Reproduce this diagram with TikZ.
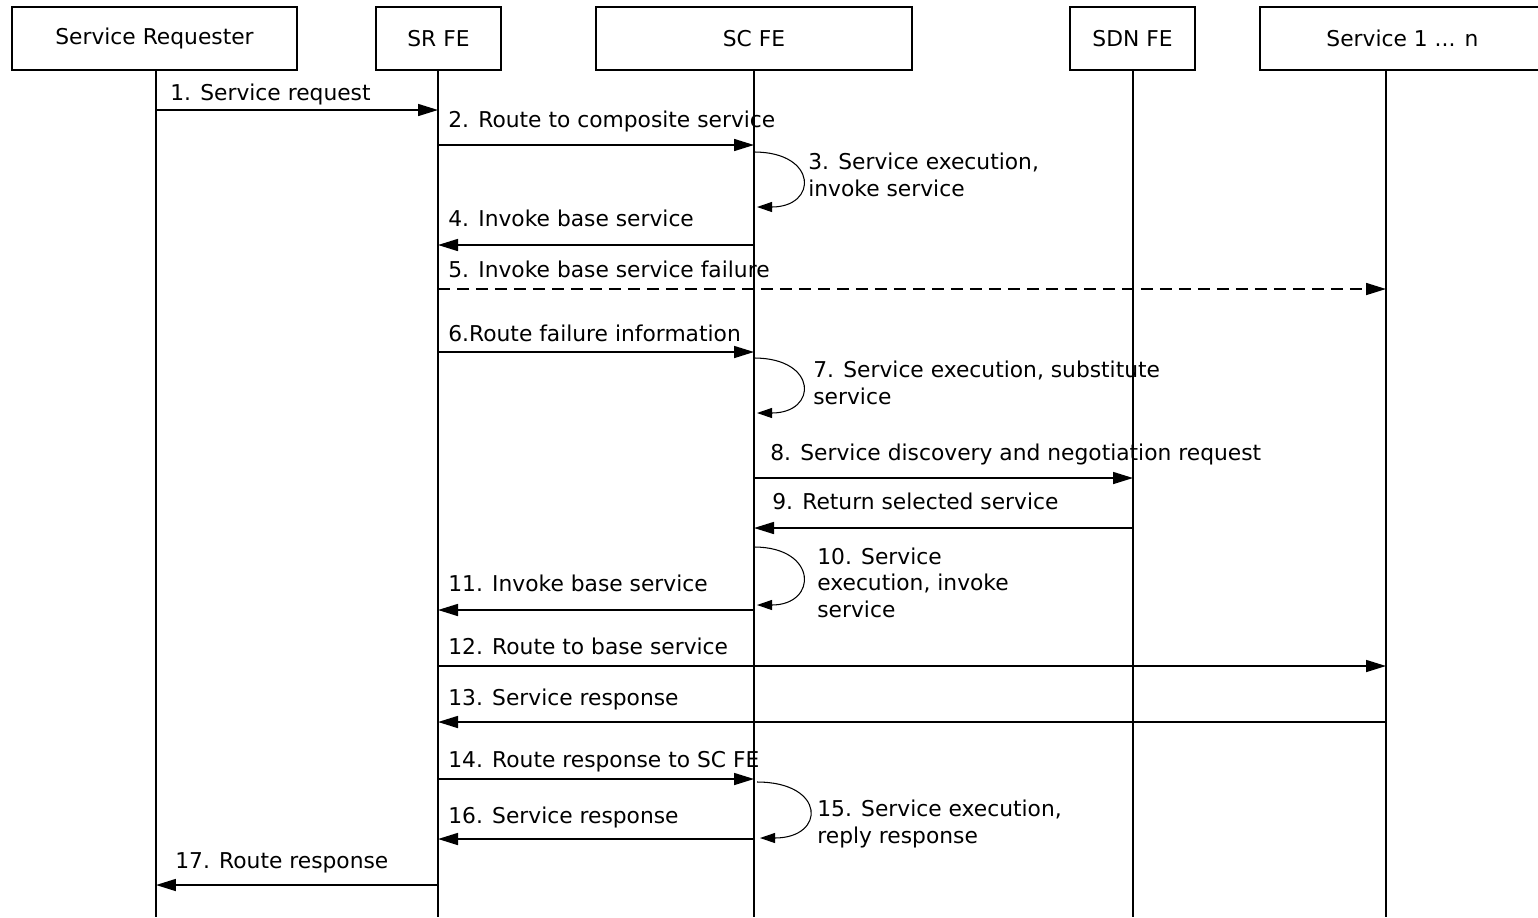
\documentclass[tikz,border=0pt]{standalone}
\usepackage{fontspec}
\setmainfont{DejaVu Sans}
\usetikzlibrary{arrows.meta}
\tikzset{
  actor/.style={draw, line width=0.9pt, minimum height=1.26cm, inner sep=0pt,
    font=\fontsize{12.4}{15}\selectfont},
  life/.style={line width=0.9pt},
  msg/.style={line width=0.9pt, -{Triangle[length=0.4cm, width=0.24cm]}},
  failmsg/.style={msg, dash pattern=on 0.24cm off 0.14cm},
  selfloop/.style={line width=0.6pt, -{Triangle[length=0.3cm, width=0.2cm]}},
  lbl/.style={anchor=base west, inner sep=0pt, align=left,
    font=\fontsize{12.4}{15}\selectfont}
}
\begin{document}
\begin{tikzpicture}[x=0.02cm, y=-0.02cm]
\useasboundingbox (0,0) rectangle (1538,917);
\clip (0,0) rectangle (1538,917);

% participants
\node[actor, minimum width=5.7cm] (req) at (154.5,38.5) {Service Requester};
\node[actor, minimum width=2.5cm] (srfe) at (438.5,38.5) {SR FE};
\node[actor, minimum width=6.32cm] (scfe) at (754,38.5) {SC FE};
\node[actor, minimum width=2.5cm] (sdnfe) at (1132.5,38.5) {SDN FE};
\node[actor, minimum width=5.7cm] (svc) at (1402.5,38.5) {Service 1 ... n};

% lifelines
\coordinate (reqE) at (156,917);
\coordinate (srE) at (438,917);
\coordinate (scE) at (754,917);
\coordinate (sdnE) at (1133,917);
\coordinate (svcE) at (1386,917);
\draw[life] (req.south -| reqE) -- (reqE);
\draw[life] (srfe.south -| srE) -- (srE);
\draw[life] (scfe.south -| scE) -- (scE);
\draw[life] (sdnfe.south -| sdnE) -- (sdnE);
\draw[life] (svc.south -| svcE) -- (svcE);

% 1
\draw[msg] (reqE |- 0,110) -- (srE |- 0,110);
\node[lbl] (m1) at (170,100) {1. Service request};
% 2
\draw[msg] (srE |- 0,145) -- (scE |- 0,145);
\node[lbl] (m2) at (448,127) {2. Route to composite service};
% 3
\draw[selfloop] (scE |- 0,152) .. controls (818,152) and (818,207) .. (757,207);
\node[lbl] (m3) at (808,196) {3. Service execution,\\invoke service};
% 4
\draw[msg] (scE |- 0,245) -- (srE |- 0,245);
\node[lbl] (m4) at (448,226) {4. Invoke base service};
% 5
\draw[failmsg] (srE |- 0,289) -- (svcE |- 0,289);
\node[lbl] (m5) at (448,277) {5. Invoke base service failure};
% 6
\draw[msg] (srE |- 0,352) -- (scE |- 0,352);
\node[lbl] (m6) at (448,341) {6.Route failure information};
% 7
\draw[selfloop] (scE |- 0,358) .. controls (818,358) and (818,413) .. (757,413);
\node[lbl] (m7) at (813,404) {7. Service execution, substitute\\service};
% 8
\draw[msg] (scE |- 0,478) -- (sdnE |- 0,478);
\node[lbl] (m8) at (770,460) {8. Service discovery and negotiation request};
% 9
\draw[msg] (sdnE |- 0,528) -- (scE |- 0,528);
\node[lbl] (m9) at (772,509) {9. Return selected service};
% 10
\draw[selfloop] (scE |- 0,547) .. controls (818,547) and (818,605) .. (757,605);
\node[lbl] (m10) at (817,617) {10. Service\\execution, invoke\\service};
% 11
\draw[msg] (scE |- 0,610) -- (srE |- 0,610);
\node[lbl] (m11) at (448,591) {11. Invoke base service};
% 12
\draw[msg] (srE |- 0,666) -- (svcE |- 0,666);
\node[lbl] (m12) at (448,654) {12. Route to base service};
% 13
\draw[msg] (svcE |- 0,722) -- (srE |- 0,722);
\node[lbl] (m13) at (448,705) {13. Service response};
% 14
\draw[msg] (srE |- 0,779) -- (scE |- 0,779);
\node[lbl] (m14) at (448,767) {14. Route response to SC FE};
% 15
\draw[selfloop] (757,782) .. controls (826,782) and (826,838) .. (760,838);
\node[lbl] (m15) at (817,843) {15. Service execution,\\reply response};
% 16
\draw[msg] (scE |- 0,839) -- (srE |- 0,839);
\node[lbl] (m16) at (448,823) {16. Service response};
% 17
\draw[msg] (srE |- 0,885) -- (reqE |- 0,885);
\node[lbl] (m17) at (175,868) {17. Route response};
\end{tikzpicture}
\end{document}
